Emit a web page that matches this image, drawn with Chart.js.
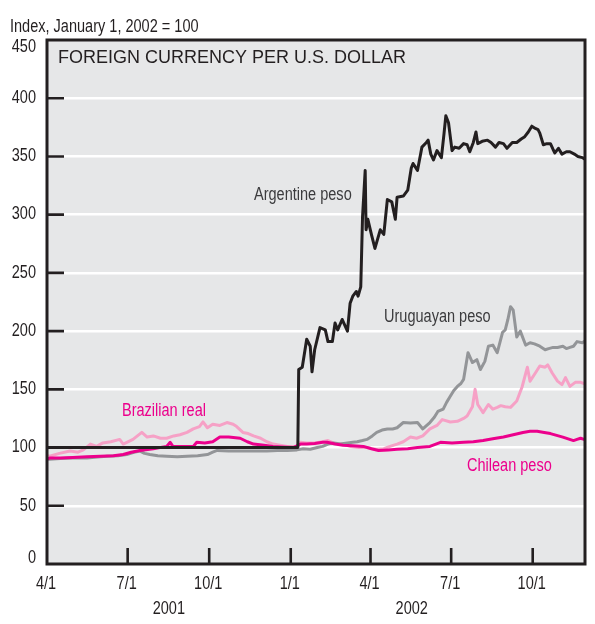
<!DOCTYPE html>
<html>
<head>
<meta charset="utf-8">
<script src="https://cdn.jsdelivr.net/npm/chart.js@4/dist/chart.umd.min.js"></script>
<style>
  html, body { margin: 0; padding: 0; background: #ffffff; }
  #wrap { width: 595px; height: 624px; position: relative; }
</style>
</head>
<body>
<div id="wrap"><canvas id="chart" width="595" height="624"></canvas></div>
<script>
// Exchange-rate indexes (Jan 1, 2002 = 100); x values are days since April 1, 2001.
const tickDays   = [0, 91, 183, 275, 365, 456, 548];
const tickLabels = ['4/1', '7/1', '10/1', '1/1', '4/1', '7/1', '10/1'];
const yearLabels = ['2001', '2002'];
const yearCenters = [137.5, 411.5];
const yTicks = [0, 50, 100, 150, 200, 250, 300, 350, 400, 450];

const argDays = [0,283,284,288,293,297,299,302,308,314,317,322,325,328,333,339,342,345,349,351,354,356,359,360,362,366,370,376,380,384,389,393,395,402,407,411,413,418,423,428,430,433,436,440,445,448,450,453,457,460,465,470,474,477,481,484,486,491,497,501,506,510,515,519,525,530,535,539,543,547,551,554,556,560,564,568,571,573,577,581,586,590,595,599,604,606];
const argValues = [100,100,167,169,193,187,165,184,203,201,191,191,207,201,210,200,224,230,234,230,238,298,338,287,296,283,271,287,283,313,311,296,315,316,321,340,344,338,358,362,364,352,347,355,349,370,385,379,355,358,357,361,360,354,362,371,361,363,364,362,358,362,361,357,362,362,365,367,371,376,374,373,370,360,361,361,356,353,357,352,354,354,352,350,349,348];

const chlDays = [0,3,15,29,45,60,75,86,95,105,120,135,139,142,155,165,169,178,187,195,205,218,226,233,245,255,265,278,286,293,302,311,316,325,334,345,357,366,374,385,395,407,418,432,444,457,470,481,492,503,515,526,537,545,553,561,568,575,582,588,594,598,602,606];
const chlValues = [90,91,91,91.5,92,92.5,93,94,96,97.5,99,101,104.5,101,101,101,104.5,104,105,109,109,108,105,103,102,101,100.5,100,103,103,103.5,104.5,104.5,103,102,101.5,101,99,97.5,98,98.5,99,100,101,104.5,104,104.5,105,106,107.5,109,111,113,114,114,113,112,110.5,109,107.5,106,107,108,107];

const uruDays = [0,3,15,29,45,60,68,80,90,98,105,110,116,125,135,147,158,170,181,187,192,205,218,233,248,260,271,282,289,297,305,311,317,323,331,339,345,350,356,361,367,372,378,384,390,395,402,410,418,424,432,437,441,447,451,455,459,463,467,470,475,480,485,489,494,498,503,508,514,517,520,523,526,530,534,540,545,550,556,562,566,571,576,582,586,590,594,598,604,606];
const uruValues = [90,90,90.5,91,91,92,92.5,93,94,96,97,95,94,93,92.5,92,92.5,93,94,96,97.5,97,97,97,97,97.5,97.5,98,99,98.5,100,101,103,104,103,104,104.5,105,106,107,110,113,115,116,116,117,121.5,121,121.5,116,121.5,126,131,133,139,144,149,152.5,155,158.5,181.5,173,175.5,167,174,187,188,181.5,199,201,210,221,218,195,200,188,190,189,187,184,185,186,186,187,185,186,187,191,190,191];

const braDays = [0,3,14,26,35,41,49,56,63,72,82,86,97,107,113,120,128,135,143,150,158,165,172,176,181,187,195,203,210,214,221,227,233,241,248,255,263,271,282,286,293,302,311,317,323,333,342,352,361,367,372,380,387,395,402,410,417,424,432,440,446,455,463,470,474,480,483,486,492,498,503,508,512,517,523,530,536,542,545,551,556,562,565,570,576,581,585,590,596,602,606];
const braValues = [93,92.5,95,97,96,98,103,101,104,105,107,103,107,113,109,110,108,108,110,111,113,116,118,122,117,120,119,121.5,120,118,113,112,110,108,105,103,102,101,101,104.5,104,104,105,106,104,103,101,100,100,99,98.5,99,101,103,105,109,108,110,116,119,124,122,122.5,125,127,135,150,137,130,137,133,134.5,136,135,134.5,140,152,169,157,164,170,169,171,164,157,154,160,152.5,156,156,155];

const seriesNames = ['Argentine peso', 'Chilean peso', 'Uruguayan peso', 'Brazilian real'];
const seriesColors = ['#231f20', '#ec008c', '#939598', '#f6a1c6'];

const FONT = "'Liberation Sans', Arial, sans-serif";
const NARROW = 0.83; // horizontal squeeze that gives a condensed face

function pts(days, vals) { return days.map((d, i) => ({ x: d, y: vals[i] })); }

// condensed text: real glyphs, squeezed horizontally
function narrowText(ctx, text, x, y, align) {
  ctx.save();
  ctx.translate(x, y);
  ctx.scale(NARROW, 1);
  ctx.textAlign = align;
  ctx.fillText(text, 0, 0);
  ctx.restore();
}

const framePlugin = {
  id: 'frame',
  beforeDraw(chart) {
    const { ctx, chartArea: a } = chart;
    ctx.save();
    ctx.fillStyle = '#e6e7e8';
    ctx.fillRect(a.left, a.top, a.right - a.left, a.bottom - a.top);
    ctx.restore();
  },
  afterDraw(chart) {
    const { ctx, chartArea: a, scales } = chart;
    const xs = scales.x, ys = scales.y;
    ctx.save();
    // frame
    ctx.strokeStyle = '#231f20';
    ctx.lineWidth = 3;
    ctx.strokeRect(a.left, a.top, a.right - a.left, a.bottom - a.top);
    // inner tick marks
    ctx.lineWidth = 2.6;
    ctx.beginPath();
    yTicks.forEach(v => {
      if (v === 0 || v === 450) return;
      const y = ys.getPixelForValue(v);
      ctx.moveTo(a.left, y); ctx.lineTo(a.left + 17, y);
    });
    tickDays.forEach(d => {
      if (d === 0) return;
      const x = xs.getPixelForValue(d);
      ctx.moveTo(x, a.bottom); ctx.lineTo(x, a.bottom - 16);
    });
    ctx.stroke();

    ctx.fillStyle = '#231f20';
    ctx.font = '17.5px ' + FONT;
    ctx.textBaseline = 'middle';
    // y tick labels
    yTicks.forEach(v => {
      let y = ys.getPixelForValue(v);
      y = Math.max(a.top + 7, Math.min(a.bottom - 6, y));
      narrowText(ctx, String(v), 36, y, 'right');
    });
    // x tick labels
    tickDays.forEach((d, i) => narrowText(ctx, tickLabels[i], xs.getPixelForValue(d) - 1, 584, 'center'));
    // year labels
    yearLabels.forEach((t, i) => narrowText(ctx, t, xs.getPixelForValue(yearCenters[i]), 609, 'center'));
    // axis unit
    ctx.textBaseline = 'alphabetic';
    narrowText(ctx, 'Index, January 1, 2002 = 100', 10, 32, 'left');
    // panel title
    ctx.font = '18px ' + FONT;
    ctx.textAlign = 'left';
    ctx.fillText('FOREIGN CURRENCY PER U.S. DOLLAR', 58, 63);
    // series labels
    ctx.font = '17.5px ' + FONT;
    ctx.fillStyle = '#3b3b3d';
    narrowText(ctx, 'Argentine peso', 254, 200, 'left');
    narrowText(ctx, 'Uruguayan peso', 384, 322, 'left');
    ctx.fillStyle = '#ec008c';
    narrowText(ctx, 'Brazilian real', 122, 416, 'left');
    narrowText(ctx, 'Chilean peso', 467, 471, 'left');
    ctx.restore();
  }
};

new Chart(document.getElementById('chart'), {
  type: 'line',
  data: {
    datasets: [
      { label: seriesNames[0], data: pts(argDays, argValues), borderColor: seriesColors[0] },
      { label: seriesNames[1], data: pts(chlDays, chlValues), borderColor: seriesColors[1] },
      { label: seriesNames[2], data: pts(uruDays, uruValues), borderColor: seriesColors[2] },
      { label: seriesNames[3], data: pts(braDays, braValues), borderColor: seriesColors[3] }
    ]
  },
  options: {
    responsive: false,
    animation: false,
    devicePixelRatio: 1,
    layout: { padding: { top: 40, right: 10, left: 0, bottom: 0 } },
    elements: {
      line: { borderWidth: 3, tension: 0, borderJoinStyle: 'round', borderCapStyle: 'round' },
      point: { radius: 0 }
    },
    plugins: { legend: { display: false }, tooltip: { enabled: false } },
    scales: {
      x: {
        type: 'linear', min: 0, max: 607,
        afterFit(s) { s.height = 60; },
        afterBuildTicks(s) { s.ticks = tickDays.map(v => ({ value: v })); },
        grid: { display: false, drawTicks: false },
        border: { display: false },
        ticks: { display: false }
      },
      y: {
        min: 0, max: 450,
        afterFit(s) { s.width = 47; },
        afterBuildTicks(s) { s.ticks = yTicks.map(v => ({ value: v })); },
        grid: {
          drawTicks: false, lineWidth: 2.5,
          color: (c) => (c.tick && c.tick.value > 0 && c.tick.value < 450) ? '#ffffff' : 'rgba(0,0,0,0)'
        },
        border: { display: false },
        ticks: { display: false }
      }
    }
  },
  plugins: [framePlugin]
});
</script>
</body>
</html>
